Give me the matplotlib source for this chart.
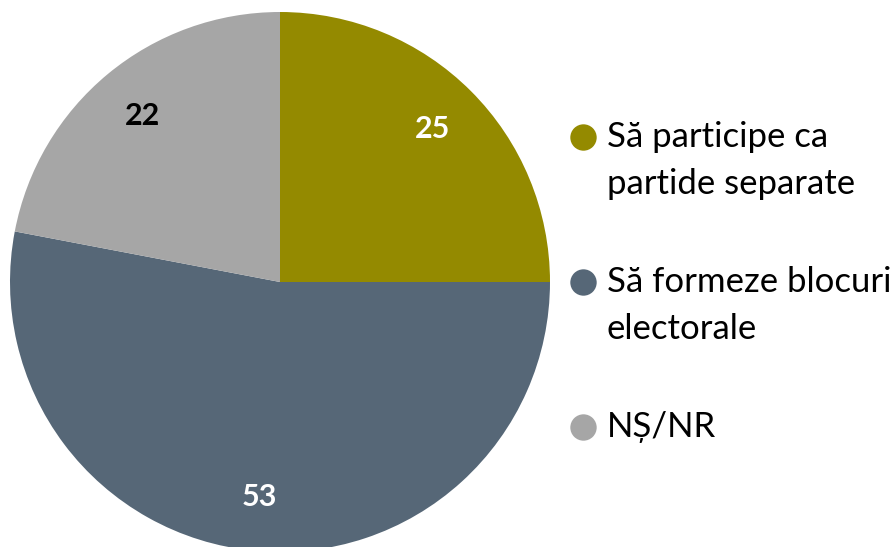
import matplotlib
matplotlib.use("Agg")
import matplotlib.pyplot as plt

categories = ["Să participe ca\npartide separate", "Să formeze blocuri\nelectorale", "NȘ/NR"]
values = [25, 53, 22]
colors = ["#948A00", "#566777", "#A6A6A6"]
label_colors = ["white", "white", "black"]

plt.rcParams['font.family'] = ['Lato', 'DejaVu Sans']

W, H = 896, 547
fig = plt.figure(figsize=(W / 100, H / 100), dpi=100)
cx, cy, r = 280, 282, 270
ax = fig.add_axes([(cx - r) / W, (H - cy - r) / H, 2 * r / W, 2 * r / H])
wedges, texts = ax.pie(values, colors=colors, startangle=90, counterclock=False,
                       labels=[str(v) for v in values], labeldistance=0.8,
                       wedgeprops=dict(linewidth=0))
for t, c in zip(texts, label_colors):
    t.set_color(c)
    t.set_fontsize(22)
    t.set_fontweight('bold')
    t.set_ha('center')
    t.set_va('center')
ax.set_xlim(-1, 1)
ax.set_ylim(-1, 1)
ax.set_aspect('equal')
ax.axis('off')

# legend
lax = fig.add_axes([0, 0, 1, 1], facecolor='none')
lax.set_xlim(0, W)
lax.set_ylim(H, 0)
lax.axis('off')
marker_x = 583
marker_ys = [137, 282, 427]
text_x = 607
for lab, col, my in zip(categories, colors, marker_ys):
    lax.plot([marker_x], [my], 'o', markersize=19, color=col, markeredgewidth=0)
    lax.text(text_x, my - 16, lab, fontsize=25, color='black',
             ha='left', va='top', linespacing=1.58)

fig.savefig("out.png", dpi=100)
